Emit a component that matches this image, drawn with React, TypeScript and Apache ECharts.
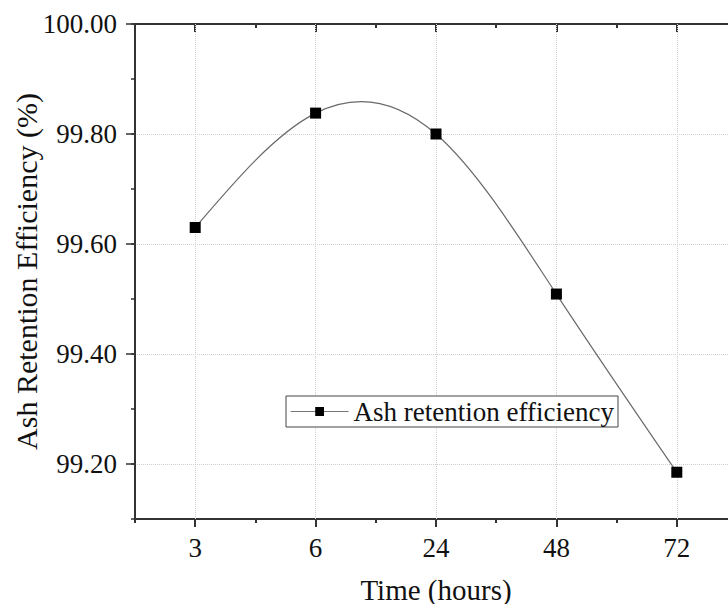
import React, { useEffect, useRef } from "react";
import * as echarts from "echarts";

const categories = ["3", "6", "24", "48", "72"];
const retention = [99.63, 99.838, 99.8, 99.509, 99.185];
const seriesName = "Ash retention efficiency";
const xTitle = "Time (hours)";
const yTitle = "Ash Retention Efficiency (%)";
const yMin = 99.1;
const yMax = 100.0;

const FONT = '"Liberation Serif", "Times New Roman", serif';

// natural cubic spline through pixel points -> SVG path data (cubic Beziers)
function splinePath(pts: number[][]): string {
  const n = pts.length;
  if (n < 2) return "";
  const h: number[] = [];
  for (let i = 0; i < n - 1; i++) h.push(pts[i + 1][0] - pts[i][0]);
  const M = new Array(n).fill(0);
  if (n > 2) {
    const a: number[] = [], b: number[] = [], c: number[] = [], d: number[] = [];
    for (let i = 1; i < n - 1; i++) {
      a.push(h[i - 1]);
      b.push(2 * (h[i - 1] + h[i]));
      c.push(h[i]);
      d.push(
        6 * ((pts[i + 1][1] - pts[i][1]) / h[i] - (pts[i][1] - pts[i - 1][1]) / h[i - 1])
      );
    }
    const m = b.length;
    for (let i = 1; i < m; i++) {
      const w = a[i] / b[i - 1];
      b[i] -= w * c[i - 1];
      d[i] -= w * d[i - 1];
    }
    const sol = new Array(m).fill(0);
    sol[m - 1] = d[m - 1] / b[m - 1];
    for (let i = m - 2; i >= 0; i--) sol[i] = (d[i] - c[i] * sol[i + 1]) / b[i];
    for (let i = 0; i < m; i++) M[i + 1] = sol[i];
  }
  let path = `M${pts[0][0]},${pts[0][1]}`;
  for (let i = 0; i < n - 1; i++) {
    const hi = h[i];
    const dy = (pts[i + 1][1] - pts[i][1]) / hi;
    const s0 = dy - (hi * (2 * M[i] + M[i + 1])) / 6;
    const s1 = dy + (hi * (M[i] + 2 * M[i + 1])) / 6;
    const c1x = pts[i][0] + hi / 3;
    const c1y = pts[i][1] + (s0 * hi) / 3;
    const c2x = pts[i + 1][0] - hi / 3;
    const c2y = pts[i + 1][1] - (s1 * hi) / 3;
    path += ` C${c1x},${c1y} ${c2x},${c2y} ${pts[i + 1][0]},${pts[i + 1][1]}`;
  }
  return path;
}

export default function App() {
  const ref = useRef<HTMLDivElement>(null);
  useEffect(() => {
    if (!ref.current) return;
    const chart = echarts.init(ref.current, undefined, { renderer: "svg" });
    const axisLine = { show: true, lineStyle: { color: "#333", width: 2 } };
    const gridStyle = { color: "#cfcfcf", width: 1, type: "dotted" as const };
    const option: any = {
      animation: false,
      backgroundColor: "#fff",
      grid: { left: 135, right: 8, top: 24, bottom: 85, containLabel: false, outerBoundsMode: "none" },
      legend: {
        show: true,
        left: 286,
        top: 396,
        orient: "horizontal",
        backgroundColor: "#fff",
        borderColor: "#444",
        borderWidth: 1,
        borderRadius: 0,
        padding: [2, 4, 2, 4],
        itemWidth: 58,
        itemHeight: 11,
        itemGap: 8,
        z: 6,
        lineStyle: { color: "#777", width: 1.2, opacity: 1 },
        itemStyle: { color: "#000", borderWidth: 0 },
        textStyle: { fontFamily: FONT, fontSize: 27, color: "#111" },
        data: [{ name: seriesName }],
      },
      xAxis: [
        {
          type: "category",
          data: categories,
          position: "bottom",
          boundaryGap: true,
          axisLine,
          axisTick: { show: true, alignWithLabel: true, length: 8, inside: false, lineStyle: { color: "#333", width: 2 } },
          axisLabel: { fontFamily: FONT, fontSize: 27, color: "#111", margin: 15 },
          splitLine: { show: false },
          name: xTitle,
          nameLocation: "middle",
          nameGap: 56,
          nameMoveOverlap: false,
          nameTextStyle: { fontFamily: FONT, fontSize: 29, color: "#111" },
        },
        {
          type: "category",
          data: categories,
          position: "bottom",
          boundaryGap: true,
          axisLine: { show: false },
          axisTick: { show: true, alignWithLabel: false, length: 4, inside: false, lineStyle: { color: "#333", width: 2 } },
          axisLabel: { show: false },
          splitLine: { show: false },
        },
        {
          type: "category",
          data: categories,
          position: "top",
          boundaryGap: true,
          axisLine,
          axisTick: { show: true, alignWithLabel: true, length: 8, inside: true, lineStyle: { color: "#333", width: 2 } },
          axisLabel: { show: false },
          splitLine: { show: false },
        },
        {
          type: "category",
          data: categories,
          position: "top",
          boundaryGap: true,
          axisLine: { show: false },
          axisTick: { show: true, alignWithLabel: false, length: 4, inside: true, lineStyle: { color: "#333", width: 2 } },
          axisLabel: { show: false },
          splitLine: { show: false },
        },
      ],
      yAxis: [
        {
          type: "value",
          position: "left",
          min: yMin,
          max: yMax,
          minInterval: 0.2,
          maxInterval: 0.2,
          splitNumber: 4,
          axisLine,
          axisTick: { show: true, length: 9, inside: false, lineStyle: { color: "#333", width: 1.5 } },
          axisLabel: {
            fontFamily: FONT,
            fontSize: 27,
            color: "#111",
            margin: 18,
            showMinLabel: false,
            formatter: (v: number) => (v < yMin + 0.05 ? "" : v.toFixed(2)),
          },
          splitLine: { show: true, lineStyle: gridStyle },
          name: yTitle,
          nameLocation: "middle",
          nameGap: 94,
          nameMoveOverlap: false,
          nameTextStyle: { fontFamily: FONT, fontSize: 30, color: "#111" },
        },
        {
          type: "value",
          position: "left",
          min: yMin,
          max: yMax,
          interval: 0.1,
          axisLine: { show: false },
          axisTick: { show: true, length: 4, inside: false, lineStyle: { color: "#333", width: 1.5 } },
          axisLabel: { show: false },
          splitLine: { show: false },
        },
        {
          type: "value",
          position: "right",
          min: yMin,
          max: yMax,
          minInterval: 0.2,
          maxInterval: 0.2,
          splitNumber: 4,
          axisLine,
          axisTick: { show: true, length: 9, inside: true, lineStyle: { color: "#333", width: 1.5 } },
          axisLabel: { show: false },
          splitLine: { show: false },
        },
      ],
      series: [
        {
          name: "spline",
          type: "custom",
          xAxisIndex: 0,
          yAxisIndex: 0,
          data: retention.map((v, i) => [i, v]),
          z: 2,
          silent: true,
          renderItem: (params: any, api: any) => {
            if (params.dataIndex !== 0) return null;
            const pts = retention.map((v, i) => api.coord([i, v]));
            return {
              type: "path",
              shape: { pathData: splinePath(pts) },
              style: { stroke: "#6a6a6a", fill: "none", lineWidth: 1.2 },
            };
          },
          markLine: {
            silent: true,
            symbol: "none",
            z: 1,
            label: { show: false },
            lineStyle: gridStyle,
            data: categories.map((c) => ({ xAxis: c })),
          },
        },
        {
          name: seriesName,
          type: "line",
          xAxisIndex: 0,
          yAxisIndex: 0,
          data: retention,
          symbol: "rect",
          symbolSize: 11,
          showAllSymbol: true,
          itemStyle: { color: "#000", borderWidth: 0, borderColor: "#000" },
          lineStyle: { width: 0, opacity: 0 },
          z: 10,
        },
      ],
    };
    chart.setOption(option);
    return () => chart.dispose();
  }, []);
  return (
    <div style={{ position: "fixed", left: 0, top: 0, width: 728, height: 604, overflow: "hidden", background: "#fff" }}>
      <div ref={ref} style={{ width: 745, height: 604 }} />
    </div>
  );
}
